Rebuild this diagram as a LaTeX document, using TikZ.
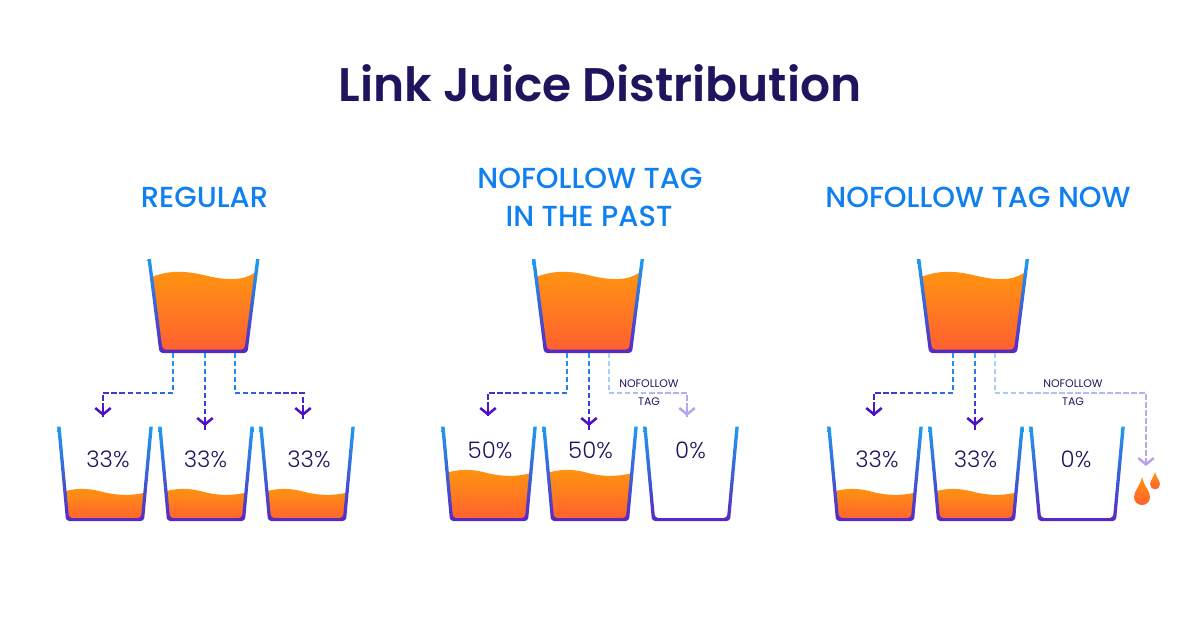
\documentclass[tikz,border=0pt]{standalone}
\usepackage{fontspec}
\setmainfont{Poppins}
\newfontfamily\lightfont{Poppins Light}
\newfontfamily\midfont{Poppins Medium}
\newfontfamily\semifont{Poppins SemiBold}
\usetikzlibrary{arrows.meta, decorations.markings}
\definecolor{navy}{HTML}{21145F}
\definecolor{skyblue}{HTML}{1080F0}
\definecolor{glasstop}{HTML}{1E9BF0}
\definecolor{glassbot}{HTML}{5A28C0}
\definecolor{juicetop}{HTML}{FF9410}
\definecolor{juicebot}{HTML}{FF6030}
\definecolor{flowend}{HTML}{4B12C4}
\definecolor{paletop}{HTML}{A8D4F8}
\definecolor{paleend}{HTML}{B8A4EC}
\tikzset{
    title/.style={font=\semifont\fontsize{33.5}{36}\selectfont, text=navy},
    heading/.style={font=\midfont\fontsize{20.6}{23}\selectfont, text=skyblue},
    percent/.style={font=\lightfont\fontsize{16.2}{18}\selectfont, text=navy},
    tagtext/.style={font=\fontsize{7.8}{9}\selectfont, text=navy},
    flowline/.style 2 args={decoration={markings,
        mark=between positions 0 and 1 step 5.7pt with {
            \pgfmathsetmacro{\mixval}{\pgfkeysvalueof{/pgf/decoration/mark info/distance from start}/\pgfdecoratedpathlength*100}
            \fill[#2!\mixval!#1] (0pt,-0.85pt) rectangle (3.8pt,0.85pt);
        }}, decorate},
    flowtip/.style={draw=#1, line width=1.8pt, -{Straight Barb[length=4.5pt, width=11pt]}},
    smallglass/.pic={
        \begin{scope}
            \clip (-46,0) -- (-37,93) -- (37,93) -- (46,0) -- cycle;
            \shade[top color=juicetop, bottom color=juicebot] (-48,#1+3) .. controls (-30,#1-3) and (-18,#1-3) .. (0,#1+2) .. controls (14,#1+5) and (28,#1+6) .. (48,#1) -- (48,95) -- (-48,95) -- cycle;
        \end{scope}
        \shade[top color=glasstop, bottom color=glassbot]
            (-47.8,0) [rounded corners=0.08cm] -- (-39,94.5) -- (39,94.5) [sharp corners] -- (47.8,0) -- (44.4,0) [rounded corners=0.08cm] -- (36,91.5) -- (-36,91.5) [sharp corners] -- (-44.4,0) -- cycle;
    },
    bigglass/.pic={
        \shade[top color=juicetop, bottom color=juicebot] (-52,18) .. controls (-36,12) and (-22,11) .. (0,16) .. controls (16,20) and (38,24) .. (52,13) -- (42,91) -- (-42,91) -- cycle;
        \shade[top color=glasstop, bottom color=glassbot]
            (-56,0) [rounded corners=0.08cm] -- (-44,94) -- (44,94) [sharp corners] -- (56,0) -- (52.6,0) [rounded corners=0.08cm] -- (41,90.6) -- (-41,90.6) [sharp corners] -- (-52.6,0) -- cycle;
    },
    drop/.pic={
        \shade[top color=juicetop, bottom color=juicebot] (0,-17) .. controls (-2,-8) and (-8,-3) .. (-8,3) .. controls (-8,8) and (-4,11) .. (0,11) .. controls (4,11) and (8,8) .. (8,3) .. controls (8,-3) and (2,-8) .. (0,-17) -- cycle;
    },
}

\begin{document}
\begin{tikzpicture}[x=0.025cm, y=-0.025cm]
    \useasboundingbox (0,0) rectangle (1200,630);
    \node[title] (main) at (600,83) {Link Juice Distribution};
    \node[heading] (regular) at (204.5,197) {REGULAR};
    \node[heading] (pastone) at (590,178) {NOFOLLOW TAG};
    \node[heading] (pasttwo) at (589,216) {IN THE PAST};
    \node[heading] (now) at (978,197) {NOFOLLOW TAG NOW};

    % glasses
    \pic at (203.5,259) {bigglass};
    \pic at (105,426.5) {smallglass=64};
    \pic at (206,426.5) {smallglass=64};
    \pic at (307,426.5) {smallglass=64};
    \pic at (588,259) {bigglass};
    \pic at (489,426.5) {smallglass=45};
    \pic at (590,426.5) {smallglass=45};
    \pic at (691,426.5) {smallglass=100};
    \pic at (973,259) {bigglass};
    \pic at (875,426.5) {smallglass=64};
    \pic at (976,426.5) {smallglass=64};
    \pic at (1077,426.5) {smallglass=100};
    \pic at (1142,494) {drop};
    \pic[scale=0.62] at (1155,482.5) {drop};

    \node[percent] (p1) at (108,459) {33\%};
    \node[percent] (p2) at (205.5,459) {33\%};
    \node[percent] (p3) at (309,459) {33\%};
    \node[percent] (p4) at (490,450) {50\%};
    \node[percent] (p5) at (590.5,450) {50\%};
    \node[percent] (p6) at (690.5,450) {0\%};
    \node[percent] (p7) at (877,459) {33\%};
    \node[percent] (p8) at (975.5,459) {33\%};
    \node[percent] (p9) at (1076,459) {0\%};

    \node[tagtext] (tag1) at (649,384) {NOFOLLOW};
    \node[tagtext] (tag2) at (649,402) {TAG};
    \node[tagtext] (tag3) at (1073,384) {NOFOLLOW};
    \node[tagtext] (tag4) at (1073,402) {TAG};

    % start points under the big glasses
    \coordinate (a1) at (173,353);
    \coordinate (a2) at (205,353);
    \coordinate (a3) at (235,353);
    \coordinate (b1) at (567,353);
    \coordinate (b2) at (589,353);
    \coordinate (b3) at (609,353);
    \coordinate (c1) at (953,353);
    \coordinate (c2) at (975,353);
    \coordinate (c3) at (995,353);
    % arrow ends
    \coordinate (ta1) at (103,416);
    \coordinate (ta2) at (205,426);
    \coordinate (ta3) at (303,416);
    \coordinate (tb1) at (488,416);
    \coordinate (tb2) at (589,426);
    \coordinate (tb3) at (687,416);
    \coordinate (tc1) at (874,416);
    \coordinate (tc2) at (975,426);
    \coordinate (tc3) at (1146,466);
    % elbows
    \coordinate (ea1) at (103,393);
    \coordinate (ea3) at (303,393);
    \coordinate (eb1) at (488,393);
    \coordinate (eb3) at (687,393);
    \coordinate (ec1) at (874,393);
    \coordinate (ec3) at (1146,393);

    \path[flowline={glasstop}{flowend}] (a1) |- (ea1) -- (ta1);
    \path[flowline={glasstop}{flowend}] (a2) -- (ta2);
    \path[flowline={glasstop}{flowend}] (a3) |- (ea3) -- (ta3);
    \path[flowline={glasstop}{flowend}] (b1) |- (eb1) -- (tb1);
    \path[flowline={glasstop}{flowend}] (b2) -- (tb2);
    \path[flowline={paletop}{paleend}] (b3) |- (eb3) -- (tb3);
    \path[flowline={glasstop}{flowend}] (c1) |- (ec1) -- (tc1);
    \path[flowline={glasstop}{flowend}] (c2) -- (tc2);
    \path[flowline={paletop}{paleend}] (c3) |- (ec3) -- (tc3);

    \foreach \tip in {ta1, ta2, ta3, tb1, tb2, tc1, tc2}
        \draw[flowtip=flowend] (\tip) ++(0,-8) -- (\tip);
    \foreach \tip in {tb3, tc3}
        \draw[flowtip=paleend] (\tip) ++(0,-8) -- (\tip);
\end{tikzpicture}
\end{document}
